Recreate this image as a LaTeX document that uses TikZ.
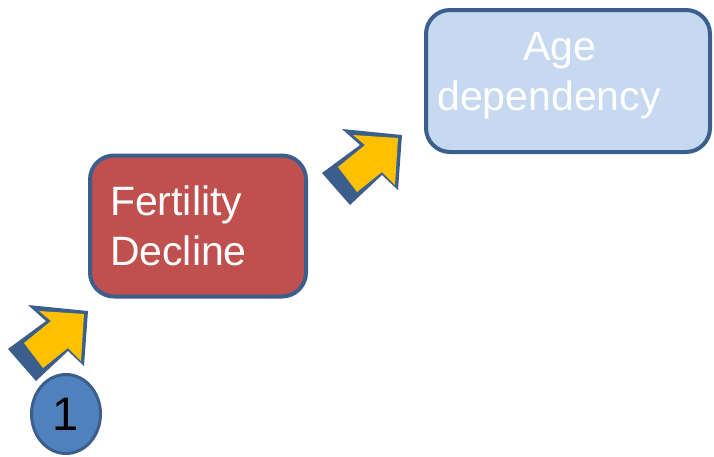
\documentclass[tikz,border=0pt]{standalone}
\usepackage{fontspec}
\setmainfont{Liberation Sans}
\usepackage{xcolor}
\usetikzlibrary{shapes.geometric, positioning}

\definecolor{edgeblue}{HTML}{3B5E8C}
\definecolor{boxred}{HTML}{C0504D}
\definecolor{boxlight}{HTML}{C6D9F1}
\definecolor{arrowyellow}{HTML}{FFC000}
\definecolor{circblue}{HTML}{4F81BD}

\tikzset{
  box/.style={draw=edgeblue, line width=4pt, rounded corners=24pt, inner sep=0pt},
  boxtext/.style={text=white, font=\fontsize{41}{50}\selectfont},
  blockarrow/.pic={
    \fill[edgeblue] (0,0) -- (-60,-6) -- (-42,10) -- (-80,38) -- (-52,70) -- (-20,40) -- (-4,55) -- cycle;
    \fill[arrowyellow] (-4,3) -- (-49,0) -- (-37,10) -- (-64,32) -- (-45,57) -- (-20,37) -- (-7,50) -- cycle;
  }
}

\begin{document}
\begin{tikzpicture}[x=1pt, y=-1pt]
  \useasboundingbox (0,0) rectangle (714,456);

  % boxes
  \node[box, boxtext, fill=boxred, minimum width=216pt, minimum height=141pt,
        text width=176pt, align=left, inner xsep=20pt] (fertility) at (198,226) {Fertility\\Decline};
  \node[box, fill=boxlight, minimum width=284pt, minimum height=142pt] (age) at (568,81) {};
  \node[boxtext, align=center, inner sep=0pt] (agetext) at (549,76) {\hspace*{22pt}Age\\dependency};

  % block arrows
  \pic at (88,311) {blockarrow};
  \pic at (402,135) {blockarrow};

  % step number
  \node[ellipse, draw=edgeblue, line width=3pt, fill=circblue, minimum width=69pt, minimum height=79pt,
        inner sep=0pt, font=\fontsize{47}{50}\selectfont] (one) at (66,414) {1};
\end{tikzpicture}
\end{document}
